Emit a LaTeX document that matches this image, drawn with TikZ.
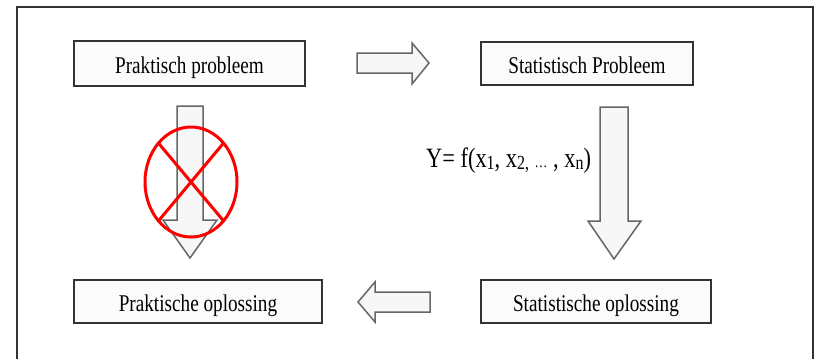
\documentclass[tikz,border=0pt]{standalone}
\usepackage{fontspec}
\setmainfont{Liberation Serif}[FakeStretch=0.8]
\begin{document}
\begin{tikzpicture}[x=1pt,y=-1pt,
  box/.style={draw=black!80,line width=1.6pt,fill=gray!3,inner sep=0pt,
    text height=24pt,text depth=5pt,font=\fontsize{24}{26}\selectfont},
  blockarrow/.style={draw=black!60,line width=1.5pt,fill=gray!6,line join=miter},
  forbid/.style={draw=red,line width=3pt}]
\useasboundingbox (0,0) rectangle (816,359);
\fill[white] (0,0) rectangle (816,359);
% outer frame
\draw[black!80,line width=1.8pt] (17,359) -- (17,7) -- (813,7) -- (813,359);
% boxes
\node[box,minimum width=231pt,minimum height=45pt] (pp) at (189.5,63.5) {Praktisch probleem};
\node[box,minimum width=212pt,minimum height=43pt] (sp) at (587,63.5) {Statistisch Probleem};
\node[box,minimum width=248pt,minimum height=43pt] (po) at (198,301.5) {Praktische oplossing};
\node[box,minimum width=230pt,minimum height=43pt] (so) at (596,301.5) {Statistische oplossing};
% block arrows
\draw[blockarrow] (357,53) -- (412,53) -- (412,43) -- (429,63) -- (412,84) -- (412,73) -- (357,73) -- cycle;
\draw[blockarrow] (430,292) -- (375,292) -- (375,282) -- (358,302) -- (375,322) -- (375,312) -- (430,312) -- cycle;
\draw[blockarrow] (177,106) -- (203,106) -- (203,220) -- (217,220) -- (190,258) -- (163,220) -- (177,220) -- cycle;
\draw[blockarrow] (600,107) -- (628,107) -- (628,221) -- (641,221) -- (614,259) -- (588,221) -- (600,221) -- cycle;
% formula
\node[anchor=base west,inner sep=0pt,font=\fontsize{28}{30}\selectfont] (formula) at (426,167)
  {Y= f(x\raisebox{-2pt}{\fontsize{20}{22}\selectfont 1}, x\raisebox{-2pt}{\fontsize{20}{22}\selectfont 2,} {\fontsize{16}{18}\selectfont …} , x\raisebox{-2pt}{\fontsize{20}{22}\selectfont n})};
% prohibition sign
\coordinate (c) at (191,182);
\draw[forbid] (c) ellipse [x radius=46,y radius=55];
\draw[forbid] (c) +(135:46 and 55) -- +(-45:46 and 55);
\draw[forbid] (c) +(45:46 and 55) -- +(-135:46 and 55);
\end{tikzpicture}
\end{document}
